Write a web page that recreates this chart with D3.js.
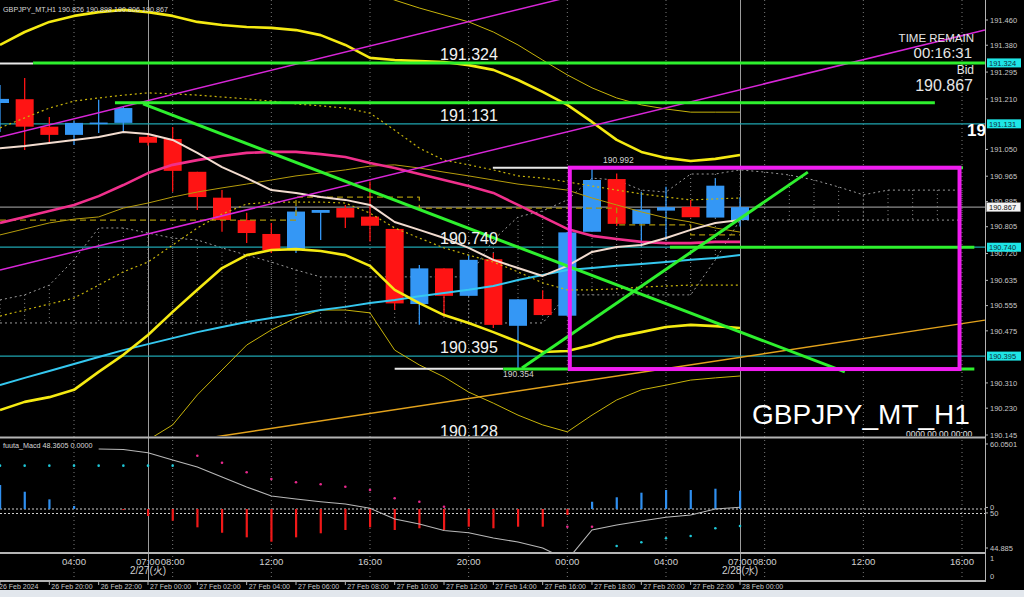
<!DOCTYPE html>
<html><head><meta charset="utf-8">
<script src="https://cdn.jsdelivr.net/npm/d3@7/dist/d3.min.js"></script>
<style>
html,body{margin:0;padding:0;background:#000;overflow:hidden;}
svg{display:block;}
text{font-family:"Liberation Sans",Arial,sans-serif;}
</style></head><body>
<svg id="chart" width="1024" height="597"></svg>
<script>
// ===== DATA =====
// hour index relative to server time 27 Feb 00:00 (local 07:00)
const hours = [-6,-5,-4,-3,-2,-1,0,1,2,3,4,5,6,7,8,9,10,11,12,13,14,15,16,17,18,19,20,21,22,23,24];
const opens  = [191.197,191.209,191.122,191.096,191.130,191.134,191.090,191.083,190.979,190.897,190.826,190.782,190.731,190.849,190.864,190.837,190.798,190.560,190.673,190.586,190.702,190.491,190.576,190.523,190.789,190.956,190.814,190.856,190.868,190.834,190.826];
const highs  = [191.254,191.276,191.153,191.140,191.207,191.185,191.100,191.121,190.979,190.921,190.849,190.817,190.868,190.858,190.874,190.948,190.798,190.684,190.673,190.716,190.722,190.575,190.604,190.788,190.992,190.974,190.916,190.932,190.890,190.958,190.898];
const lows   = [191.105,191.048,191.070,191.064,191.102,191.105,191.062,190.916,190.858,190.789,190.753,190.722,190.722,190.763,190.801,190.758,190.541,190.494,190.520,190.585,190.484,190.354,190.525,190.523,190.789,190.807,190.742,190.763,190.835,190.834,190.806];
const closes = [191.210,191.122,191.096,191.134,191.135,191.181,191.071,190.982,190.899,190.826,190.785,190.731,190.853,190.858,190.834,190.808,190.562,190.673,190.586,190.700,190.494,190.575,190.525,190.787,190.953,190.814,190.860,190.867,190.835,190.935,190.867];

const maWhite = [191.054,191.061,191.070,191.080,191.089,191.105,191.099,191.080,191.039,190.994,190.959,190.921,190.912,190.899,190.890,190.874,190.820,190.795,190.769,190.738,190.700,190.674,190.649,190.681,190.725,190.741,190.747,190.769,190.795,190.817,190.826];
const maPink  = [190.817,190.836,190.855,190.874,190.902,190.937,190.975,191.001,191.016,191.029,191.039,191.042,191.042,191.035,191.026,191.007,190.991,190.972,190.953,190.934,190.912,190.874,190.836,190.798,190.776,190.766,190.757,190.753,190.753,190.757,190.757];
const maCyan  = [190.303,190.326,190.348,190.370,190.392,190.414,190.433,190.452,190.471,190.487,190.503,190.516,190.528,190.541,190.551,190.563,190.573,190.585,190.595,190.605,190.617,190.636,190.652,190.668,190.674,190.681,190.687,190.693,190.700,190.706,190.715];
const bbUpper3 = [191.587,191.587,191.587,191.587,191.587,191.587,191.587,191.587,191.587,191.587,191.587,191.587,191.587,191.587,191.587,191.555,191.523,191.498,191.476,191.454,191.422,191.381,191.333,191.286,191.245,191.213,191.191,191.178,191.168,191.168,191.168];
const bbUpper2 = [191.381,191.422,191.454,191.473,191.485,191.492,191.485,191.473,191.454,191.444,191.438,191.435,191.428,191.412,191.381,191.340,191.333,191.330,191.327,191.317,191.302,191.270,191.232,191.191,191.137,191.080,191.042,191.023,191.013,191.020,191.032];
const bbUpper1 = [191.118,191.150,191.181,191.203,191.213,191.222,191.229,191.226,191.222,191.216,191.210,191.203,191.194,191.188,191.181,191.165,191.111,191.054,191.016,191.001,190.985,190.966,190.959,190.947,190.934,190.921,190.909,190.899,190.890,190.893,190.896];
const bbLower1 = [190.522,190.541,190.560,190.579,190.620,190.662,190.693,190.747,190.801,190.845,190.877,190.883,190.883,190.883,190.880,190.848,190.801,190.769,190.738,190.715,190.693,190.662,190.627,190.605,190.605,190.608,190.614,190.617,190.620,190.620,190.620];
const bbLower2 = [190.224,190.250,190.265,190.288,190.345,190.399,190.462,190.535,190.605,190.674,190.715,190.731,190.734,190.728,190.715,190.681,190.605,190.563,190.525,190.500,190.471,190.440,190.408,190.411,190.430,190.456,190.471,190.487,190.494,190.490,190.484];
const bbLower3 = [190.034,190.050,190.066,190.082,190.098,190.113,190.129,190.177,190.272,190.351,190.430,190.478,190.516,190.541,190.541,190.532,190.414,190.367,190.329,190.281,190.246,190.208,190.177,190.155,190.208,190.256,190.288,190.303,190.319,190.326,190.332];
const goldLine = [190.779,190.798,190.817,190.829,190.836,190.864,190.880,190.899,190.915,190.928,190.940,190.953,190.966,190.975,190.985,190.997,191.001,190.991,190.978,190.966,190.953,190.940,190.931,190.921,190.896,190.874,190.852,190.833,190.820,190.801,190.788];
const kijun = [190.826,190.826,190.826,190.826,190.826,190.826,190.826,190.826,190.826,190.826,190.826,190.826,190.899,190.899,190.899,190.899,190.899,190.864,190.864,190.864,190.864,190.864,190.864,190.864,190.864,190.811,190.811,190.811,190.779,190.779,190.779];

const cloudHours = [-6,-5,-4,-3,-2,-1,0,1,2,3,4,5,6,7,8,9,10,11,12,13,14,15,16,17,18,19,20,21,22,23,24,25,26,27,28,29,30,31,32,33];
const spanA = [190.573,190.589,190.620,190.700,190.801,190.801,190.785,190.769,190.763,190.738,190.715,190.693,190.668,190.646,190.646,190.646,190.646,190.646,190.646,190.646,190.763,190.836,190.855,190.890,190.959,190.953,190.921,190.915,190.972,190.972,190.985,190.978,190.969,190.953,190.931,190.906,190.921,190.921,190.921,190.921];
const spanB = [190.500,190.500,190.500,190.500,190.500,190.500,190.500,190.500,190.500,190.500,190.500,190.500,190.500,190.500,190.500,190.500,190.500,190.500,190.500,190.500,190.500,190.500,190.500,190.589,190.589,190.589,190.589,190.589,190.589,190.700,190.826,190.826,190.826,190.826,190.826,190.826,190.826,190.826,190.826,190.826];

const macdHist = [3.50,2.52,1.41,0.44,0,-0.15,-1.02,-1.71,-2.67,-3.46,-4.13,-4.77,-4.13,-3.54,-3.06,-2.67,-3.06,-2.81,-3.06,-2.58,-2.81,-2.58,-2.58,-0.87,1.06,1.71,2.38,2.77,2.77,2.96,2.67];
const macdHistBase = 50.57;
const macdSignal = [null,null,null,null,59.32,59.25,58.78,57.72,56.70,55.24,53.78,52.47,52.03,51.64,51.30,50.67,49.11,48.39,47.44,47.12,46.34,45.76,44.89,43.14,47.51,48.24,48.82,49.36,49.70,50.57,50.82];
const dotsCyan = [56.89,56.89,56.89,56.89,56.89,56.89,56.89,56.89,null,null,null,null,null,null,null,null,null,null,null,null,null,null,null,null,null,45.18,45.72,46.30,46.64,47.76,48.09];
const dotsPink = [null,null,null,null,null,null,null,null,58.34,57.32,55.92,54.95,54.47,54.17,53.82,53.34,52.13,51.64,50.91,null,null,null,null,47.99,47.99,null,null,null,null,null,null];

const priceTicks = [191.460,191.380,191.295,191.210,191.050,190.965,190.885,190.805,190.720,190.635,190.555,190.475,190.310,190.230,190.145];
const tagPrices = [191.324,191.131,190.740,190.395];
const bidPrice = 190.867;
const levelTexts = ["191.324","191.131","190.740","190.395","190.128"];
const levelTextPrices = [191.324,191.131,190.740,190.395,190.128];

const localTickHours = [-3,0,1,5,9,13,17,21,24,25,29,33];
const localTickLabels = ["04:00","07:00","08:00","12:00","16:00","20:00","00:00","04:00","07:00","08:00","12:00","16:00"];
const gridHours = [-3,1,5,9,13,17,21,25,29,33];
const daySepHours = [0,24];
const dateHours = [0,24];
const dateLabels = ["2/27(火)","2/28(水)"];
const serverHours = [-6,-4,-2,0,2,4,6,8,10,12,14,16,18,20,22,24];
const serverLabels = ["26 Feb 2024","26 Feb 20:00","26 Feb 22:00","27 Feb 00:00","27 Feb 02:00","27 Feb 04:00","27 Feb 06:00","27 Feb 08:00","27 Feb 10:00","27 Feb 12:00","27 Feb 14:00","27 Feb 16:00","27 Feb 18:00","27 Feb 20:00","27 Feb 22:00","28 Feb 00:00"];

// drawn objects [h1, h2, price]
const greenLevels = [[-4.66,33.93,191.324],[-1.34,31.9,191.198],[17.5,33.04,190.992],[21.16,33.5,190.740],[14.4,33.5,190.354]];
const whiteLevels = [[-6,-4.66,191.322],[13.98,17.1,190.992],[10.0,14.4,190.355]];
const cyanLevels = [191.131,190.740,190.395];
const trendGreen = [[[-0.2,191.194],[28.25,190.345]],[[15.16,190.357],[26.75,190.978]]];
const trendOrange = [[2.72,190.139],[33.93,190.509]];
const channelMagenta = [[[-6,191.089],[33.93,191.857]],[[-6,190.668],[33.93,191.428]]];
const boxMagenta = [17.1,32.9,190.992,190.354];

// ===== CHART =====
const svg = d3.select("#chart");
const PR = 985;
svg.append("rect").attr("width",1024).attr("height",597).attr("fill","#000");
svg.append("rect").attr("x",0).attr("y",590).attr("width",1024).attr("height",7).attr("fill","#e2e7ed");

const xS = d3.scaleLinear().domain([-6,24]).range([0,740]);
const yS = d3.scaleLinear().domain([190.145,191.460]).range([435,20]);
const yM = d3.scaleLinear().domain([44.885,60.0501]).range([548,444]);

const defs = svg.append("defs");
defs.append("clipPath").attr("id","cm").append("rect").attr("x",0).attr("y",0).attr("width",PR).attr("height",436);
defs.append("clipPath").attr("id","cd").append("rect").attr("x",0).attr("y",439).attr("width",PR).attr("height",113);

// grid
const grid = svg.append("g");
gridHours.forEach(h=>{
  grid.append("line").attr("x1",xS(h)).attr("x2",xS(h)).attr("y1",0).attr("y2",581)
    .attr("stroke","#7a7a7a").attr("stroke-width",1).attr("stroke-dasharray","1,3");
});
daySepHours.forEach(h=>{
  grid.append("line").attr("x1",xS(h)+0.5).attr("x2",xS(h)+0.5).attr("y1",0).attr("y2",581)
    .attr("stroke","#9c9c9c").attr("stroke-width",1);
});

const main = svg.append("g").attr("clip-path","url(#cm)");
const lineGen = d3.line().defined(d=>d[1]!=null).x(d=>xS(d[0])).y(d=>yS(d[1]));
function series(vals, hs){ return (hs||hours).map((h,i)=>[h,vals[i]]); }
function drawLine(g,vals,color,w,dash,hs,curve){
  const gen = curve? d3.line().defined(d=>d[1]!=null).x(d=>xS(d[0])).y(d=>yS(d[1])).curve(curve) : lineGen;
  return g.append("path").attr("d",gen(series(vals,hs))).attr("fill","none")
   .attr("stroke",color).attr("stroke-width",w).attr("stroke-dasharray",dash||null)
   .attr("stroke-linejoin","round");
}

// cloud (dotted)
cloudHours.forEach((h,i)=>{
  main.append("line").attr("x1",xS(h)).attr("x2",xS(h)).attr("y1",yS(spanA[i])).attr("y2",yS(spanB[i]))
    .attr("stroke","#8a8a8a").attr("stroke-width",1).attr("stroke-dasharray","1,3");
});
drawLine(main,spanA,"#9a9a9a",1,"2,3",cloudHours);
drawLine(main,spanB,"#9a9a9a",1,"2,3",cloudHours);

// horizontal cyan levels & bid line
cyanLevels.forEach(p=>{
  main.append("line").attr("x1",0).attr("x2",PR).attr("y1",yS(p)).attr("y2",yS(p)).attr("stroke","#1fa5b0").attr("stroke-width",1.2);
});
main.append("line").attr("x1",0).attr("x2",PR).attr("y1",yS(bidPrice)).attr("y2",yS(bidPrice)).attr("stroke","#8c8c8c").attr("stroke-width",1.2);

// candles
const cg = main.append("g");
hours.forEach((h,i)=>{
  const up = closes[i] >= opens[i];
  const col = up ? "#3497f5" : "#ff1414";
  const cx = xS(h);
  cg.append("line").attr("x1",cx).attr("x2",cx).attr("y1",yS(highs[i])).attr("y2",yS(lows[i])).attr("stroke",col).attr("stroke-width",1.3);
  const top = yS(Math.max(opens[i],closes[i])), bot = yS(Math.min(opens[i],closes[i]));
  cg.append("rect").attr("x",cx-9).attr("width",18).attr("y",top).attr("height",Math.max(1.5,bot-top)).attr("fill",col);
});

// indicator lines
drawLine(main,kijun,"#a8920a",1.3,"6,4",hours,d3.curveStepAfter);
drawLine(main,goldLine,"#b59c0c",1);
drawLine(main,bbUpper3,"#c8b40a",1);
drawLine(main,bbLower3,"#c8b40a",1);
drawLine(main,bbUpper1,"#c8b40a",1.2,"2,3");
drawLine(main,bbLower1,"#c8b40a",1.2,"2,3");
drawLine(main,maCyan,"#35c8f0",2);
drawLine(main,maPink,"#f0308c",2.6);
drawLine(main,maWhite,"#f2dccf",2);
drawLine(main,bbUpper2,"#f5ea12",2.6);
drawLine(main,bbLower2,"#f5ea12",2.6);

// objects
channelMagenta.forEach(seg=>{
  main.append("line").attr("x1",xS(seg[0][0])).attr("y1",yS(seg[0][1])).attr("x2",xS(seg[1][0])).attr("y2",yS(seg[1][1]))
    .attr("stroke","#d826d8").attr("stroke-width",1.5);
});
main.append("line").attr("x1",xS(trendOrange[0][0])).attr("y1",yS(trendOrange[0][1])).attr("x2",xS(trendOrange[1][0])).attr("y2",yS(trendOrange[1][1]))
  .attr("stroke","#e2a21c").attr("stroke-width",1.5);
whiteLevels.forEach(l=>{
  main.append("line").attr("x1",xS(l[0])).attr("x2",xS(l[1])).attr("y1",yS(l[2])).attr("y2",yS(l[2])).attr("stroke","#e8e8e8").attr("stroke-width",2);
});
greenLevels.forEach(l=>{
  main.append("line").attr("x1",xS(l[0])).attr("x2",xS(l[1])).attr("y1",yS(l[2])).attr("y2",yS(l[2])).attr("stroke","#2ef02e").attr("stroke-width",3);
});
trendGreen.forEach(seg=>{
  main.append("line").attr("x1",xS(seg[0][0])).attr("y1",yS(seg[0][1])).attr("x2",xS(seg[1][0])).attr("y2",yS(seg[1][1]))
    .attr("stroke","#2ef02e").attr("stroke-width",3);
});
main.append("rect").attr("x",xS(boxMagenta[0])).attr("y",yS(boxMagenta[2]))
  .attr("width",xS(boxMagenta[1])-xS(boxMagenta[0])).attr("height",yS(boxMagenta[3])-yS(boxMagenta[2]))
  .attr("fill","none").attr("stroke","#f01cf0").attr("stroke-width",4);

// level texts
levelTexts.forEach((t,i)=>{
  main.append("text").attr("x",440).attr("y",yS(levelTextPrices[i])-3).text(t)
    .attr("fill","#f2f2f2").attr("font-size",16);
});
main.append("text").attr("x",603).attr("y",yS(190.992)-5).text("190.992").attr("fill","#d0d0d0").attr("font-size",8.5);
main.append("text").attr("x",503).attr("y",yS(190.354)+8).text("190.354").attr("fill","#d0d0d0").attr("font-size",8.5);

// info texts
const info = main.append("g").attr("fill","#e6e6e6").attr("text-anchor","end");
info.append("text").attr("x",974).attr("y",42).attr("font-size",11.5).text("TIME REMAIN");
info.append("text").attr("x",972).attr("y",58).attr("font-size",15).text("00:16:31");
info.append("text").attr("x",974).attr("y",74).attr("font-size",12).text("Bid");
info.append("text").attr("x",973).attr("y",91).attr("font-size",16).text("190.867");
main.append("text").attr("x",967).attr("y",136).attr("font-size",17).attr("font-weight","bold").attr("fill","#fff").text("19");
main.append("text").attr("x",752).attr("y",424).attr("font-size",28).attr("fill","#fff").text("GBPJPY_MT_H1");
main.append("text").attr("x",906).attr("y",437).attr("font-size",8.5).attr("fill","#e0e0e0").text("0000.00.00 00:00");
svg.append("text").attr("x",3).attr("y",12).attr("font-size",7.2).attr("fill","#d8d8d8")
  .text("GBPJPY_MT,H1  190.826 190.898 190.806 190.867");

// ===== MACD panel =====
const md = svg.append("g").attr("clip-path","url(#cd)");
[509,513.5].forEach(yy=>{
  md.append("line").attr("x1",0).attr("x2",PR).attr("y1",yy).attr("y2",yy).attr("stroke","#d0d0d0").attr("stroke-width",1).attr("stroke-dasharray","2,2");
});
hours.forEach((h,i)=>{
  const v = macdHist[i]; if(!v) return;
  const y0 = yM(macdHistBase), y1 = yM(macdHistBase+v);
  md.append("rect").attr("x",xS(h)-1).attr("width",2.2).attr("y",Math.min(y0,y1)).attr("height",Math.abs(y1-y0))
    .attr("fill", v>0 ? "#2f8ff0" : "#f01818");
});
const mline = d3.line().defined(d=>d[1]!=null).x(d=>xS(d[0])).y(d=>yM(d[1]));
md.append("path").attr("d",mline(hours.map((h,i)=>[h,macdSignal[i]]))).attr("fill","none").attr("stroke","#b8b8b8").attr("stroke-width",1.1);
hours.forEach((h,i)=>{
  if(dotsCyan[i]!=null) md.append("circle").attr("cx",xS(h)).attr("cy",yM(dotsCyan[i])).attr("r",1.3).attr("fill","#1ec8d8");
  if(dotsPink[i]!=null) md.append("circle").attr("cx",xS(h)).attr("cy",yM(dotsPink[i])).attr("r",1.3).attr("fill","#e8288c");
});
svg.append("text").attr("x",3).attr("y",448).attr("font-size",7.2).attr("fill","#d8d8d8").text("fuuta_Macd 48.3605  0.0000");

// ===== separators & axis =====
[437.5,553,581].forEach(yy=>{
  svg.append("line").attr("x1",0).attr("x2",PR+1).attr("y1",yy).attr("y2",yy).attr("stroke","#b4b4b4").attr("stroke-width",2);
});
svg.append("line").attr("x1",PR+0.5).attr("x2",PR+0.5).attr("y1",0).attr("y2",582).attr("stroke","#b4b4b4").attr("stroke-width",1);

const ax = svg.append("g").attr("font-size",7.5).attr("fill","#c8c8c8");
priceTicks.forEach(p=>{
  ax.append("line").attr("x1",PR).attr("x2",PR+3).attr("y1",yS(p)).attr("y2",yS(p)).attr("stroke","#b4b4b4");
  ax.append("text").attr("x",990).attr("y",yS(p)+2.7).text(p.toFixed(3));
});
tagPrices.forEach(p=>{
  ax.append("rect").attr("x",987).attr("y",yS(p)-4.5).attr("width",34).attr("height",9).attr("fill","#1ee6e6");
  ax.append("text").attr("x",989).attr("y",yS(p)+2.8).attr("fill","#103040").text(p.toFixed(3));
});
ax.append("rect").attr("x",986.5).attr("y",yS(bidPrice)-4.5).attr("width",34).attr("height",9).attr("fill","#f4f4f4").attr("stroke","#888").attr("stroke-width",0.5);
ax.append("text").attr("x",989).attr("y",yS(bidPrice)+2.8).attr("fill","#111").text(bidPrice.toFixed(3));

const macdAxis = [[60.0501,"60.0501",2.7],[50.8,"0",2.7],[50,"50",3.5],[44.885,"44.885",2.7]];
macdAxis.forEach(a=>{
  ax.append("line").attr("x1",PR).attr("x2",PR+3).attr("y1",yM(a[0])).attr("y2",yM(a[0])).attr("stroke","#b4b4b4");
  ax.append("text").attr("x",990).attr("y",yM(a[0])+a[2]).text(a[1]);
});
ax.append("text").attr("x",990).attr("y",561).text("1");
ax.append("text").attr("x",990).attr("y",579).text("0");

// time labels
const tl = svg.append("g").attr("fill","#d0d0d0").attr("font-size",9.6).attr("text-anchor","middle");
localTickHours.forEach((h,i)=>{
  tl.append("text").attr("x",xS(h)).attr("y",565).text(localTickLabels[i]);
});
dateHours.forEach((h,i)=>{
  tl.append("text").attr("x",xS(h)).attr("y",574).attr("font-size",10).text(dateLabels[i]);
});
const sl = svg.append("g").attr("fill","#c8c8c8").attr("font-size",7);
serverHours.forEach((h,i)=>{
  const xx = xS(h);
  sl.append("line").attr("x1",xx).attr("x2",xx).attr("y1",581).attr("y2",585).attr("stroke","#b4b4b4");
  sl.append("text").attr("x",i===0? -1 : xx+2).attr("y",588.5).text(serverLabels[i]);
});
</script>
</body></html>
